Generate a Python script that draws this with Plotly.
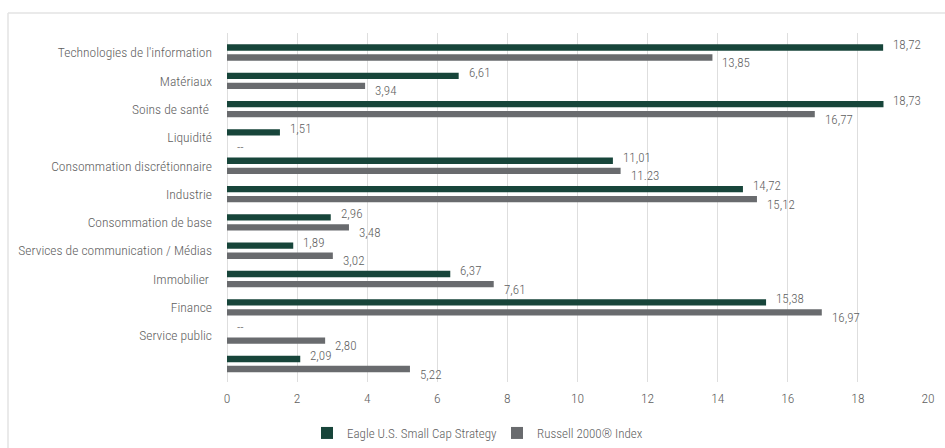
import plotly.graph_objects as go

categories = [
    "Technologies de l'information",
    "Matériaux",
    "Soins de santé\u00a0",
    "Liquidité",
    "Consommation discrétionnaire",
    "Industrie",
    "Consommation de base",
    "Services de communication / Médias",
    "Immobilier\u00a0",
    "Finance",
    "Service public",
    " ",
]
eagle = [18.72, 6.61, 18.73, 1.51, 11.01, 14.72, 2.96, 1.89, 6.37, 15.38, None, 2.09]
eagle_labels = ["18,72", "6,61", "18,73", "1,51", "11,01", "14,72", "2,96", "1,89", "6,37", "15,38", "--", "2,09"]
russell = [13.85, 3.94, 16.77, None, 11.23, 15.12, 3.48, 3.02, 7.61, 16.97, 2.80, 5.22]
russell_labels = ["13,85", "3,94", "16,77", "--", "11.23", "15,12", "3,48", "3,02", "7,61", "16,97", "2,80", "5,22"]
series_names = ["Eagle U.S. Small Cap Strategy", "Russell 2000® Index"]
tick_vals = [0, 2, 4, 6, 8, 10, 12, 14, 16, 18, 20]

GREEN = "#17453a"
GREY = "#696b6e"
TXT = "#5e5e5e"
FONT = "Roboto Condensed, Liberation Sans, sans-serif"

fig = go.Figure()
fig.add_trace(go.Bar(y=categories, x=eagle, orientation="h", name=series_names[0],
                     marker=dict(color=GREEN, line=dict(width=0))))
fig.add_trace(go.Bar(y=categories, x=russell, orientation="h", name=series_names[1],
                     marker=dict(color=GREY, line=dict(width=0))))

annotations = []
for vals, labels, ys in ((eagle, eagle_labels, 8.5), (russell, russell_labels, -10)):
    for cat, v, lab in zip(categories, vals, labels):
        annotations.append(dict(
            x=v if v is not None else 0, y=cat, xref="x", yref="y",
            text=lab, showarrow=False, xanchor="left", yanchor="middle",
            xshift=8, yshift=ys, font=dict(family=FONT, size=13, color=TXT, weight=300)))

W, H = 945, 448
L, R, T, B = 227, 17, 33, 66
pw, ph = W - L - R, H - T - B
def px2x(p):
    return (p - L) / pw
def py2y(p):
    return (H - B - p) / ph

shapes = [
    dict(type="line", xref="paper", yref="paper", x0=px2x(8), x1=px2x(960), y0=py2y(13), y1=py2y(13),
         line=dict(color="#e3e3e3", width=1.5)),
    dict(type="line", xref="paper", yref="paper", x0=px2x(8), x1=px2x(8), y0=py2y(13), y1=py2y(470),
         line=dict(color="#e3e3e3", width=1.5)),
]

fig.update_layout(
    width=W, height=H,
    margin=dict(l=L, r=R, t=T, b=B, autoexpand=False),
    paper_bgcolor="white", plot_bgcolor="white",
    barmode="group", bargap=0.29, bargroupgap=0.37,
    font=dict(family=FONT, size=13, color=TXT, weight=300),
    xaxis=dict(range=[0, 20], tickvals=tick_vals, showgrid=True, gridcolor="#dedede", gridwidth=1,
               zeroline=True, zerolinecolor="#dedede", zerolinewidth=1, showline=False, automargin=False,
               ticks="", ticklabelstandoff=6,
               tickfont=dict(family=FONT, size=13.5, color=TXT, weight=300), fixedrange=True),
    yaxis=dict(autorange="reversed", showgrid=False, zeroline=False, showline=False, ticks="", automargin=False,
               ticklabelstandoff=14, tickfont=dict(family=FONT, size=13.5, color=TXT, weight=300), fixedrange=True),
    legend=dict(orientation="h", x=px2x(307), xanchor="left", y=py2y(433), yanchor="middle",
                entrywidth=145, entrywidthmode="pixels",
                font=dict(family=FONT, size=13, color=TXT, weight=300), traceorder="normal"),
    annotations=annotations,
    shapes=shapes,
)

fig.write_html("out.html", config={"displayModeBar": False},
               post_script="document.body.style.margin='0';document.body.style.overflow='hidden';")
